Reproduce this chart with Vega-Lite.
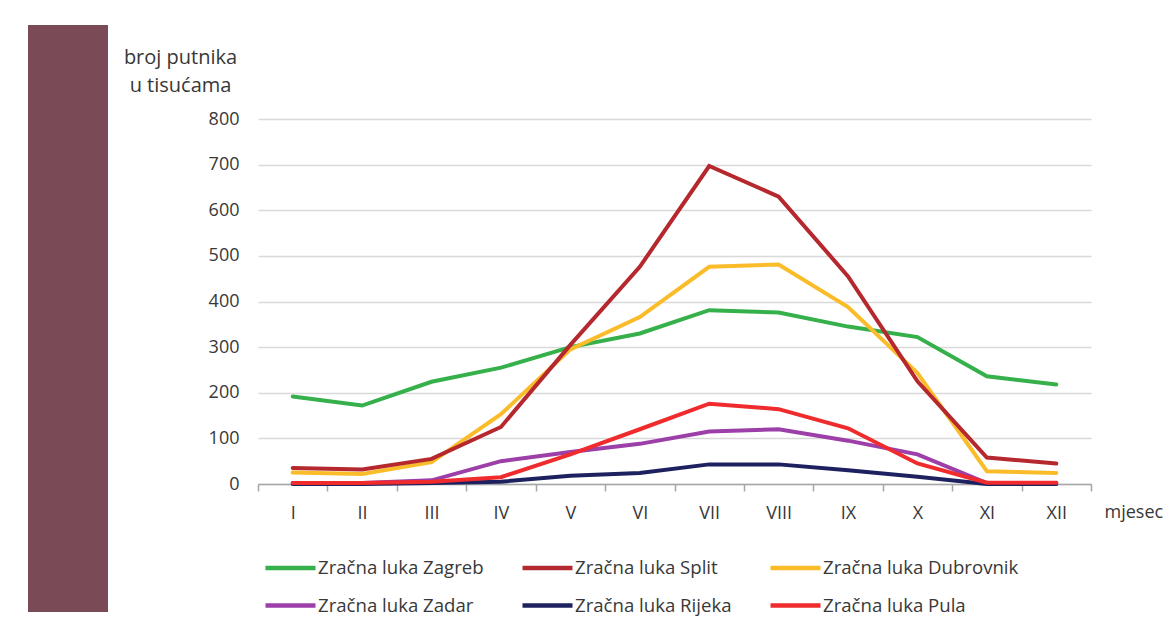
{
  "$schema": "https://vega.github.io/schema/vega-lite/v6.json",
  "background": "white",
  "padding": {"left": 28, "top": 25, "right": 5, "bottom": 5},
  "config": {
    "view": {"stroke": null},
    "font": "Open Sans"
  },
  "datasets": {
    "pax": [
      {"luka": "Zračna luka Zagreb", "mjesec": "I", "putnici": 192},
      {"luka": "Zračna luka Zagreb", "mjesec": "II", "putnici": 172},
      {"luka": "Zračna luka Zagreb", "mjesec": "III", "putnici": 224},
      {"luka": "Zračna luka Zagreb", "mjesec": "IV", "putnici": 255},
      {"luka": "Zračna luka Zagreb", "mjesec": "V", "putnici": 300},
      {"luka": "Zračna luka Zagreb", "mjesec": "VI", "putnici": 330},
      {"luka": "Zračna luka Zagreb", "mjesec": "VII", "putnici": 381},
      {"luka": "Zračna luka Zagreb", "mjesec": "VIII", "putnici": 376},
      {"luka": "Zračna luka Zagreb", "mjesec": "IX", "putnici": 345},
      {"luka": "Zračna luka Zagreb", "mjesec": "X", "putnici": 322},
      {"luka": "Zračna luka Zagreb", "mjesec": "XI", "putnici": 236},
      {"luka": "Zračna luka Zagreb", "mjesec": "XII", "putnici": 218},
      {"luka": "Zračna luka Dubrovnik", "mjesec": "I", "putnici": 25},
      {"luka": "Zračna luka Dubrovnik", "mjesec": "II", "putnici": 22},
      {"luka": "Zračna luka Dubrovnik", "mjesec": "III", "putnici": 48},
      {"luka": "Zračna luka Dubrovnik", "mjesec": "IV", "putnici": 153},
      {"luka": "Zračna luka Dubrovnik", "mjesec": "V", "putnici": 295},
      {"luka": "Zračna luka Dubrovnik", "mjesec": "VI", "putnici": 366},
      {"luka": "Zračna luka Dubrovnik", "mjesec": "VII", "putnici": 476},
      {"luka": "Zračna luka Dubrovnik", "mjesec": "VIII", "putnici": 481},
      {"luka": "Zračna luka Dubrovnik", "mjesec": "IX", "putnici": 388},
      {"luka": "Zračna luka Dubrovnik", "mjesec": "X", "putnici": 243},
      {"luka": "Zračna luka Dubrovnik", "mjesec": "XI", "putnici": 28},
      {"luka": "Zračna luka Dubrovnik", "mjesec": "XII", "putnici": 24},
      {"luka": "Zračna luka Split", "mjesec": "I", "putnici": 35},
      {"luka": "Zračna luka Split", "mjesec": "II", "putnici": 32},
      {"luka": "Zračna luka Split", "mjesec": "III", "putnici": 55},
      {"luka": "Zračna luka Split", "mjesec": "IV", "putnici": 125},
      {"luka": "Zračna luka Split", "mjesec": "V", "putnici": 305},
      {"luka": "Zračna luka Split", "mjesec": "VI", "putnici": 476},
      {"luka": "Zračna luka Split", "mjesec": "VII", "putnici": 697},
      {"luka": "Zračna luka Split", "mjesec": "VIII", "putnici": 630},
      {"luka": "Zračna luka Split", "mjesec": "IX", "putnici": 455},
      {"luka": "Zračna luka Split", "mjesec": "X", "putnici": 225},
      {"luka": "Zračna luka Split", "mjesec": "XI", "putnici": 58},
      {"luka": "Zračna luka Split", "mjesec": "XII", "putnici": 45},
      {"luka": "Zračna luka Zadar", "mjesec": "I", "putnici": 2},
      {"luka": "Zračna luka Zadar", "mjesec": "II", "putnici": 2},
      {"luka": "Zračna luka Zadar", "mjesec": "III", "putnici": 8},
      {"luka": "Zračna luka Zadar", "mjesec": "IV", "putnici": 50},
      {"luka": "Zračna luka Zadar", "mjesec": "V", "putnici": 70},
      {"luka": "Zračna luka Zadar", "mjesec": "VI", "putnici": 88},
      {"luka": "Zračna luka Zadar", "mjesec": "VII", "putnici": 115},
      {"luka": "Zračna luka Zadar", "mjesec": "VIII", "putnici": 120},
      {"luka": "Zračna luka Zadar", "mjesec": "IX", "putnici": 95},
      {"luka": "Zračna luka Zadar", "mjesec": "X", "putnici": 65},
      {"luka": "Zračna luka Zadar", "mjesec": "XI", "putnici": 2},
      {"luka": "Zračna luka Zadar", "mjesec": "XII", "putnici": 2},
      {"luka": "Zračna luka Rijeka", "mjesec": "I", "putnici": 0},
      {"luka": "Zračna luka Rijeka", "mjesec": "II", "putnici": 0},
      {"luka": "Zračna luka Rijeka", "mjesec": "III", "putnici": 2},
      {"luka": "Zračna luka Rijeka", "mjesec": "IV", "putnici": 5},
      {"luka": "Zračna luka Rijeka", "mjesec": "V", "putnici": 18},
      {"luka": "Zračna luka Rijeka", "mjesec": "VI", "putnici": 24},
      {"luka": "Zračna luka Rijeka", "mjesec": "VII", "putnici": 43},
      {"luka": "Zračna luka Rijeka", "mjesec": "VIII", "putnici": 43},
      {"luka": "Zračna luka Rijeka", "mjesec": "IX", "putnici": 30},
      {"luka": "Zračna luka Rijeka", "mjesec": "X", "putnici": 16},
      {"luka": "Zračna luka Rijeka", "mjesec": "XI", "putnici": 0},
      {"luka": "Zračna luka Rijeka", "mjesec": "XII", "putnici": 0},
      {"luka": "Zračna luka Pula", "mjesec": "I", "putnici": 2},
      {"luka": "Zračna luka Pula", "mjesec": "II", "putnici": 2},
      {"luka": "Zračna luka Pula", "mjesec": "III", "putnici": 5},
      {"luka": "Zračna luka Pula", "mjesec": "IV", "putnici": 15},
      {"luka": "Zračna luka Pula", "mjesec": "V", "putnici": 65},
      {"luka": "Zračna luka Pula", "mjesec": "VI", "putnici": 120},
      {"luka": "Zračna luka Pula", "mjesec": "VII", "putnici": 176},
      {"luka": "Zračna luka Pula", "mjesec": "VIII", "putnici": 164},
      {"luka": "Zračna luka Pula", "mjesec": "IX", "putnici": 122},
      {"luka": "Zračna luka Pula", "mjesec": "X", "putnici": 45},
      {"luka": "Zračna luka Pula", "mjesec": "XI", "putnici": 3},
      {"luka": "Zračna luka Pula", "mjesec": "XII", "putnici": 3}
    ]
  },
  "spacing": 15,
  "hconcat": [
    {
      "width": 80,
      "height": 587,
      "data": {"values": [{"panel": "band"}]},
      "mark": {"type": "rect", "color": "#7b4a57"},
      "encoding": {}
    },
    {
      "spacing": 21,
      "vconcat": [
        {
          "width": 1,
          "height": 1,
          "data": {"values": [{"panel": "spacer"}]},
          "mark": {"type": "rect", "opacity": 0},
          "encoding": {}
        },
        {
          "width": 833,
          "height": 365,
          "data": {"name": "pax"},
          "mark": {"type": "line", "strokeWidth": 4, "strokeCap": "round"},
          "encoding": {
            "x": {
              "field": "mjesec",
              "type": "ordinal",
              "sort": ["I", "II", "III", "IV", "V", "VI", "VII", "VIII", "IX", "X", "XI", "XII"],
              "scale": {"type": "band", "paddingInner": 0, "paddingOuter": 0},
              "axis": {
                "title": "mjesec",
                "titleX": 846,
                "titleY": 33,
                "titleAlign": "left",
                "titleBaseline": "alphabetic",
                "titleFontSize": 18,
                "titleFontWeight": "normal",
                "titleColor": "#383838",
                "labelFontSize": 18,
                "labelColor": "#383838",
                "labelAngle": 0,
                "labelPadding": 13,
                "tickBand": "extent",
                "tickSize": 7,
                "tickColor": "#a6a6a6",
                "tickWidth": 1.5,
                "domainColor": "#a6a6a6",
                "domainWidth": 1.5,
                "grid": false
              }
            },
            "y": {
              "field": "putnici",
              "type": "quantitative",
              "scale": {"domain": [0, 800]},
              "axis": {
                "values": [0, 100, 200, 300, 400, 500, 600, 700, 800],
                "title": ["broj putnika", "u tisućama"],
                "titleAngle": 0,
                "titleAlign": "center",
                "titleBaseline": "top",
                "titleX": -78,
                "titleY": -72,
                "titleFontSize": 20,
                "titleLineHeight": 28,
                "titleFontWeight": "normal",
                "titleColor": "#383838",
                "labelFontSize": 18,
                "labelColor": "#383838",
                "labelPadding": 19,
                "domain": false,
                "ticks": false,
                "gridColor": "#d9d9d9",
                "gridWidth": 1.5
              }
            },
            "color": {
              "field": "luka",
              "type": "nominal",
              "scale": {
                "domain": ["Zračna luka Zagreb", "Zračna luka Split", "Zračna luka Dubrovnik", "Zračna luka Zadar", "Zračna luka Rijeka", "Zračna luka Pula"],
                "range": ["#35b04a", "#b5282e", "#fbbc2a", "#9c3fa8", "#1e2160", "#ef2b2d"]
              },
              "legend": {
                "orient": "none",
                "legendX": 235,
                "legendY": 515,
                "direction": "horizontal",
                "columns": 3,
                "title": null,
                "symbolType": "stroke",
                "symbolSize": 2500,
                "symbolStrokeWidth": 4.5,
                "labelFontSize": 18.6,
                "labelColor": "#383838",
                "labelOffset": 0,
                "labelLimit": 300,
                "columnPadding": 29,
                "rowPadding": -14
              }
            }
          }
        }
      ]
    }
  ]
}
